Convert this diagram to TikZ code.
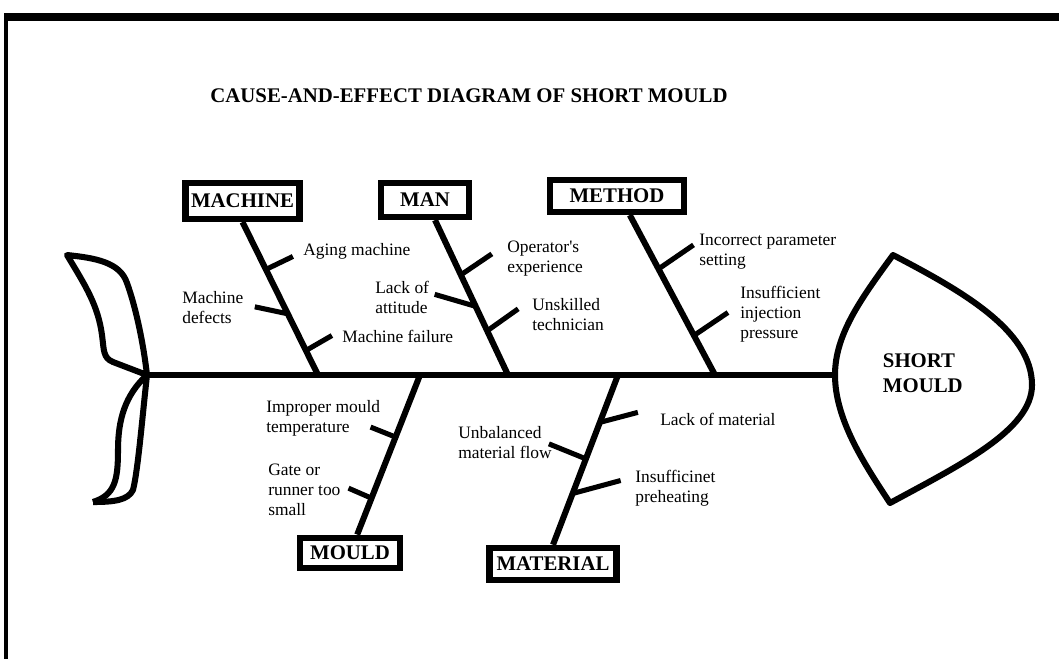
\documentclass[tikz,border=0pt]{standalone}
\usepackage{fontspec}
\setmainfont{Liberation Serif}
\usetikzlibrary{calc}
\newcommand{\labelfont}{\fontsize{14.8}{17.7}\selectfont\bfseries}
\newcommand{\causefont}{\fontsize{12.4}{14.2}\selectfont}

\begin{document}
\begin{tikzpicture}[
  x=0.025cm, y=-0.025cm,
  box/.style={draw, line width=4.6pt, inner sep=0pt, font=\labelfont},
  cause/.style={anchor=west, align=left, inner sep=0pt, font=\causefont},
  bone/.style={line width=4.3pt},
  twig/.style={line width=3.6pt}
]
  \useasboundingbox (0,0) rectangle (1059,659);
  % frame, cut off at right and bottom
  \fill (4,13) rectangle (1059,21);
  \fill (4,13) rectangle (8,659);

  \node[font=\labelfont] (title) at (469,96)
    {CAUSE-AND-EFFECT DIAGRAM OF SHORT MOULD};

  % spine, tail and head
  \coordinate (tail) at (147,375);
  \coordinate (head) at (835,375);
  \draw[bone] (tail) -- (head);
  \draw[bone, line join=round] (67,255) .. controls (95,258) and (120,262) .. (127,283)
    .. controls (135,305) and (143,340) .. (tail) -- (113,362)
    .. controls (103,358) and (104,350) .. (102,335)
    .. controls (98,305) and (85,285) .. cycle;
  \draw[bone, line join=round] (tail) .. controls (125,395) and (118,420) .. (118,450)
    .. controls (118,480) and (115,495) .. (93,502);
  \draw[bone, line join=round] (tail) .. controls (142,420) and (138,470) .. (133,490)
    .. controls (128,500) and (115,502) .. (93,502);
  \draw[bone, line join=round] (893,255) .. controls (960,290) and (1032,330) .. (1032,385)
    .. controls (1032,430) and (960,465) .. (890,503)
    .. controls (865,465) and (835,420) .. (head)
    .. controls (835,335) and (860,300) .. cycle;
  \node[font=\labelfont, align=left, anchor=west] (effect) at (878,373) {SHORT\\MOULD};

  % category boxes
  \node[box, minimum width=2.86cm, minimum height=0.89cm] (machine) at (242.5,201) {MACHINE};
  \node[box, minimum width=2.19cm, minimum height=0.84cm] (man) at (425,200) {MAN};
  \node[box, minimum width=3.34cm, minimum height=0.79cm] (method) at (617,196) {METHOD};
  \node[box, minimum width=2.5cm, minimum height=0.76cm] (mould) at (350,553) {MOULD};
  \node[box, minimum width=3.17cm, minimum height=0.8cm] (material) at (553,564) {MATERIAL};

  % bones
  \coordinate (tMach) at (machine.south);
  \coordinate (tMan) at ([xshift=0.25cm]man.south);
  \coordinate (tMeth) at ([xshift=0.32cm]method.south);
  \coordinate (tMould) at ([xshift=0.18cm]mould.north);
  \coordinate (tMat) at (material.north);
  \coordinate (jMach) at (318,375);
  \coordinate (jMan) at (508,375);
  \coordinate (jMeth) at (715,375);
  \coordinate (jMould) at (420,375);
  \coordinate (jMat) at (618,375);
  \foreach \a/\b in {tMach/jMach,tMan/jMan,tMeth/jMeth,jMould/tMould,jMat/tMat}
    \draw[bone] (\a) -- (\b);
  \foreach \a/\b/\p/\dx/\dy in {
      tMach/jMach/0.31/27/-13, tMach/jMach/0.60/-33/-7, tMach/jMach/0.84/26/-15,
      tMan/jMan/0.354/31/-21, tMan/jMan/0.557/-41/-12, tMan/jMan/0.715/31/-22,
      tMeth/jMeth/0.337/35/-24, tMeth/jMeth/0.753/34/-23,
      jMould/tMould/0.389/-25/-10, jMould/tMould/0.772/-23/-10,
      jMat/tMat/0.279/38/-10, jMat/tMat/0.494/-37/-15, jMat/tMat/0.698/48/-13}
    \draw[twig] ($(\a)!\p!(\b)$) -- ++(\dx,\dy);

  % causes
  \node[cause] (aging) at (303,251) {Aging machine};
  \node[cause] (defects) at (182,308) {Machine\\defects};
  \node[cause] (failure) at (342,336) {Machine failure};
  \node[cause] (operator) at (507,259) {Operator\textquotesingle s\\experience};
  \node[cause] (attitude) at (375,297) {Lack of\\attitude};
  \node[cause] (unskilled) at (532,315) {Unskilled\\technician};
  \node[cause] (param) at (699,252) {Incorrect parameter\\setting};
  \node[cause] (pressure) at (740,314) {Insufficient\\injection\\pressure};
  \node[cause] (temp) at (266,418) {Improper mould\\temperature};
  \node[cause] (gate) at (268,490) {Gate or\\runner too\\small};
  \node[cause] (lack) at (660,419) {Lack of material};
  \node[cause] (flow) at (458,443) {Unbalanced\\material flow};
  \node[cause] (preheat) at (635,488) {Insufficinet\\preheating};
\end{tikzpicture}
\end{document}
